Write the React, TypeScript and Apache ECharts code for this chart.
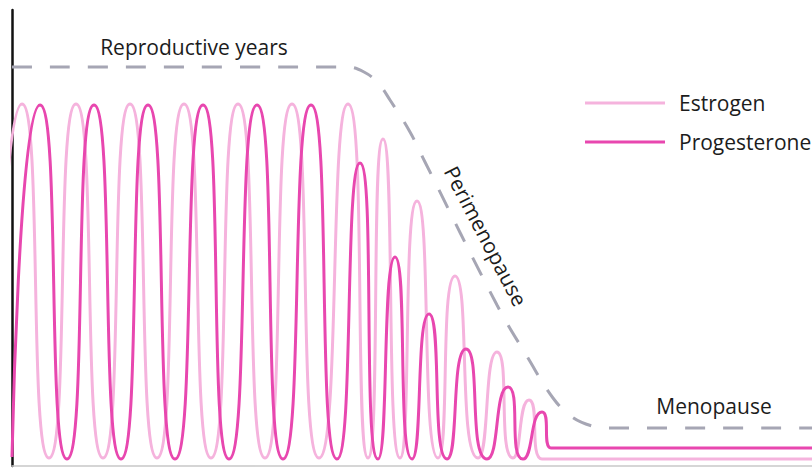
import React, { useEffect, useRef } from "react";
import * as echarts from "echarts";

// x: time (arbitrary units, 0..800), y: hormone level (arbitrary units, 0..456)
const estrogen: [number, number][] = [
  [-17, 8], [10, 362], [37, 8], [64, 362], [91, 8], [118, 362], [145, 8],
  [172, 362], [199, 8], [226, 362], [253, 8], [280, 362], [307, 8], [336, 362],
  [356, 8], [371, 327], [388, 8], [405, 265], [426, 8], [443, 190], [466, 8],
  [485, 114], [501, 8], [517, 66], [530, 7], [800, 7],
];

const progesterone: [number, number][] = [
  [0, 9], [28, 361], [55, 7], [82, 361], [109, 7], [136, 361], [163, 7],
  [191, 361], [217, 7], [245, 361], [271, 7], [299, 361], [325, 7], [348, 303],
  [366, 7], [383, 209], [400, 7], [417, 152], [435, 7], [454, 117], [475, 7],
  [496, 79], [511, 7], [530, 54], [539, 18], [544, 18], [800, 18],
];

const phaseLine: [number, number][] = [
  [0, 399], [335, 399], [352, 394], [366, 383], [378, 366], [398, 334],
  [413, 304], [485, 161], [516, 108], [541, 68], [560, 49], [580, 40],
  [598, 38], [800, 38],
];

const seriesNames = ["Estrogen", "Progesterone"];
const phaseLabels = ["Reproductive years", "Perimenopause", "Menopause"];

const LIGHT = "#F5B3DD";
const DARK = "#E847AF";
const GRAY = "#A6A6B4";
const FONT = "Open Sans";
const FS = 21;

export default function App() {
  const ref = useRef<HTMLDivElement>(null);
  useEffect(() => {
    if (!ref.current) return;
    const chart = echarts.init(ref.current, null, { renderer: "svg" });
    const textStyle = (text: string) => ({
      text,
      fontFamily: FONT,
      fontSize: FS,
      fill: "#1c1c1c",
      align: "center",
      verticalAlign: "middle",
    });
    chart.setOption({
      animation: false,
      backgroundColor: "#ffffff",
      grid: { left: 12, right: 0, top: 10, bottom: 2, containLabel: false },
      xAxis: {
        type: "value",
        min: 0,
        max: 800,
        axisLine: { show: true, onZero: false, lineStyle: { color: "#c8c8c8", width: 1.5 } },
        axisTick: { show: false },
        axisLabel: { show: false },
        splitLine: { show: false },
      },
      yAxis: {
        type: "value",
        min: 0,
        max: 456,
        axisLine: { show: true, lineStyle: { color: "#111111", width: 2.5 } },
        axisTick: { show: false },
        axisLabel: { show: false },
        splitLine: { show: false },
      },
      legend: {
        data: seriesNames,
        orient: "vertical",
        left: 580,
        top: 86,
        icon: "rect",
        itemWidth: 80,
        itemHeight: 3,
        itemGap: 15,
        textStyle: {
          fontFamily: FONT,
          fontSize: FS,
          color: "#1c1c1c",
          lineHeight: 24,
          padding: [0, 0, 0, 9],
        },
      },
      graphic: [
        { type: "text", x: 194, y: 47, style: textStyle(phaseLabels[0]) },
        { type: "text", x: 486, y: 236, rotation: -1.09, style: textStyle(phaseLabels[1]) },
        { type: "text", x: 714, y: 406, style: textStyle(phaseLabels[2]) },
      ],
      series: [
        {
          name: "Phase",
          type: "line",
          data: phaseLine,
          smooth: 0.4,
          symbol: "none",
          lineStyle: { color: GRAY, width: 3, type: [20, 18] },
          itemStyle: { color: GRAY },
          z: 1,
        },
        {
          name: seriesNames[0],
          type: "line",
          data: estrogen,
          smooth: 0.75,
          symbol: "none",
          lineStyle: { color: LIGHT, width: 3 },
          itemStyle: { color: LIGHT },
          z: 2,
        },
        {
          name: seriesNames[1],
          type: "line",
          data: progesterone,
          smooth: 0.75,
          symbol: "none",
          lineStyle: { color: DARK, width: 3 },
          itemStyle: { color: DARK },
          z: 3,
        },
      ],
    });
    return () => chart.dispose();
  }, []);
  return (
    <div
      ref={ref}
      style={{ position: "fixed", left: 0, top: 0, width: 812, height: 468, background: "#fff" }}
    />
  );
}
